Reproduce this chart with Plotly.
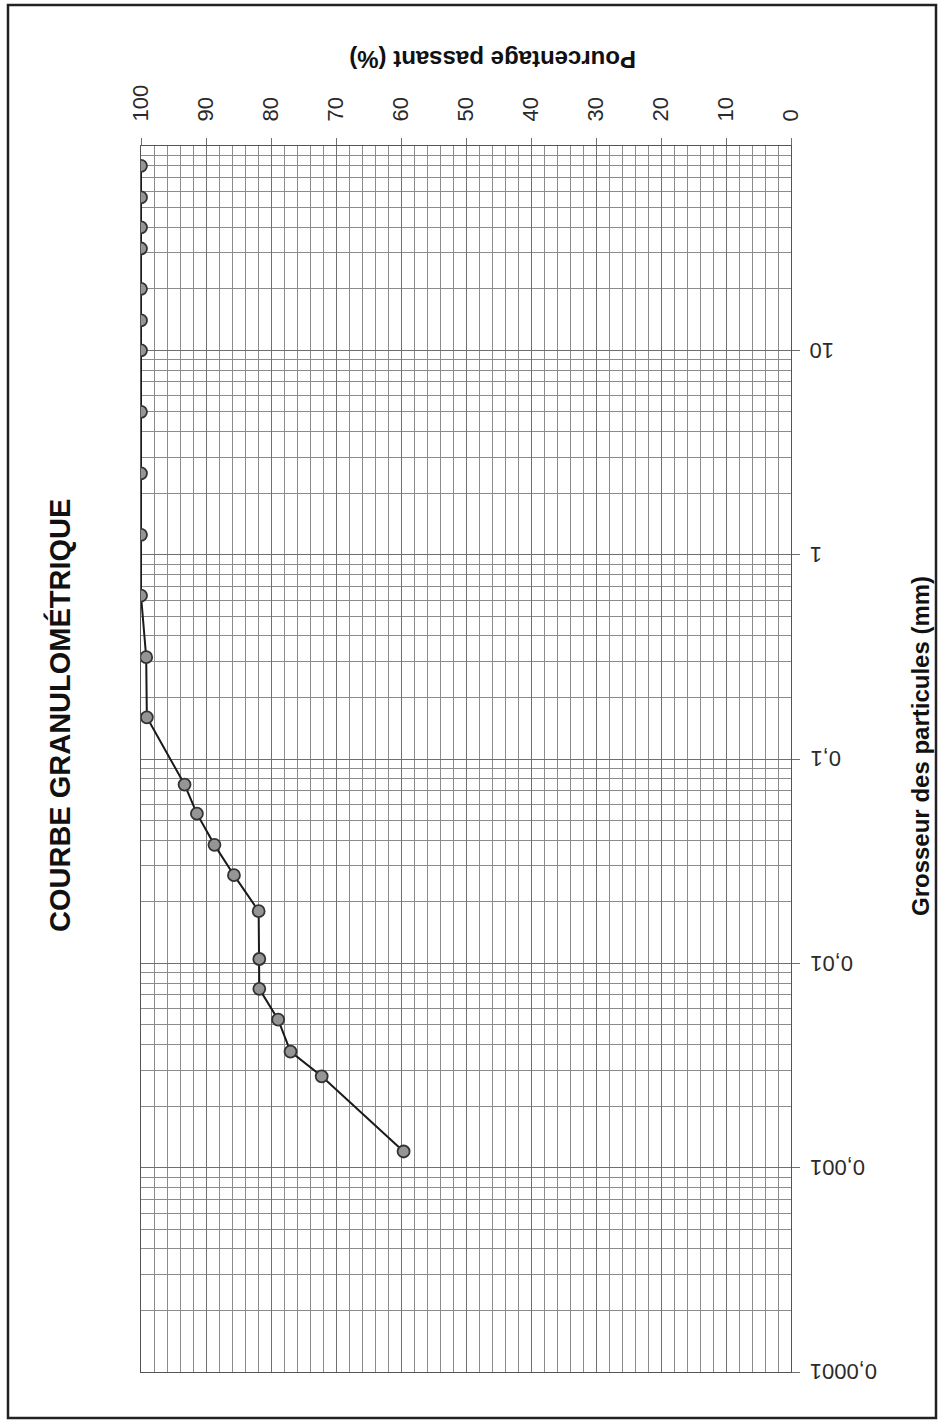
import math
import plotly.graph_objects as go

# Grain-size distribution: particle size (mm) vs. percent passing
size_mm = [80, 56, 40, 31.5, 20, 14, 10, 5, 2.5, 1.25, 0.63, 0.315, 0.16,
           0.075, 0.054, 0.038, 0.027, 0.018, 0.0105, 0.0075, 0.0053, 0.0037,
           0.0028, 0.0012]
passing_pct = [100, 100, 100, 100, 100, 100, 100, 100, 100, 100, 100, 99.2, 99.1,
               93.3, 91.4, 88.7, 85.7, 81.9, 81.8, 81.8, 78.9, 77.0,
               72.2, 59.6]

size_ticks = [0.0001, 0.001, 0.01, 0.1, 1, 10]
size_tick_text = ["0,0001", "0,001", "0,01", "0,1", "1", "10"]
pct_ticks = [0, 10, 20, 30, 40, 50, 60, 70, 80, 90, 100]

W, H = 942, 1426
L, R, T, B = 141, 151, 146, 54
pw, ph = W - L - R, H - T - B


def px(x):
    return (x - L) / pw


def py(y):
    return (H - B - y) / ph


FONT = "Liberation Sans, Arial, sans-serif"
GRID = "#6f6f6f"
GRID_MINOR = "#8c8c8c"
TICK_FONT = dict(size=22, color="#2a2a2a", family=FONT)

fig = go.Figure()
fig.add_trace(go.Scatter(
    x=passing_pct, y=size_mm, mode="lines+markers",
    line=dict(color="#1a1a1a", width=2),
    marker=dict(size=12, color="#959595", line=dict(color="#333333", width=1.8)),
    showlegend=False,
))

# size-axis labels, drawn upside down beside the decade ticks
size_labels = [
    dict(text=t, xref="paper", yref="y", x=1 + 17 / pw, y=math.log10(v),
         textangle=180, showarrow=False, xanchor="left", yanchor="middle",
         font=TICK_FONT)
    for v, t in zip(size_ticks, size_tick_text)
]

fig.update_layout(
    width=W, height=H,
    margin=dict(l=L, r=R, t=T, b=B),
    paper_bgcolor="white", plot_bgcolor="white",
    font=dict(family=FONT, color="#222222"),
    xaxis=dict(
        range=[100, 0], side="top",
        tickmode="array", tickvals=pct_ticks, ticktext=[str(v) for v in pct_ticks],
        tickangle=-90, tickfont=TICK_FONT,
        ticks="outside", ticklen=7, tickcolor=GRID, ticklabelstandoff=12,
        showgrid=True, gridcolor=GRID, gridwidth=1,
        minor=dict(dtick=2, showgrid=True, gridcolor=GRID_MINOR, gridwidth=1, ticks=""),
        showline=True, linecolor="#555555", linewidth=1, mirror=True,
        zeroline=False,
    ),
    yaxis=dict(
        type="log", range=[-4, 2], side="right",
        tickmode="array", tickvals=size_ticks, showticklabels=False,
        ticks="outside", ticklen=8, tickcolor=GRID,
        showgrid=True, gridcolor=GRID, gridwidth=1,
        minor=dict(dtick="D1", showgrid=True, gridcolor=GRID_MINOR, gridwidth=1, ticks=""),
        showline=True, linecolor="#555555", linewidth=1, mirror=True,
        zeroline=False,
    ),
    shapes=[dict(
        type="rect", xref="paper", yref="paper",
        x0=px(8), x1=px(936), y0=py(1418), y1=py(5),
        line=dict(color="#222222", width=2.5), fillcolor="rgba(0,0,0,0)",
    )],
    annotations=size_labels + [
        dict(text="<b>COURBE GRANULOMÉTRIQUE</b>", xref="paper", yref="paper",
             x=px(59), y=py(716), textangle=-90, showarrow=False,
             xanchor="center", yanchor="middle",
             font=dict(size=29, family=FONT, color="#111111")),
        dict(text="<b>Pourcentage passant (%)</b>", xref="paper", yref="paper",
             x=px(493), y=py(60), textangle=180, showarrow=False,
             xanchor="center", yanchor="middle",
             font=dict(size=24, family=FONT, color="#111111")),
        dict(text="<b>Grosseur des particules (mm)</b>", xref="paper", yref="paper",
             x=px(920), y=py(746), textangle=-90, showarrow=False,
             xanchor="center", yanchor="middle",
             font=dict(size=24, family=FONT, color="#111111")),
    ],
)

fig.write_html("out.html")
